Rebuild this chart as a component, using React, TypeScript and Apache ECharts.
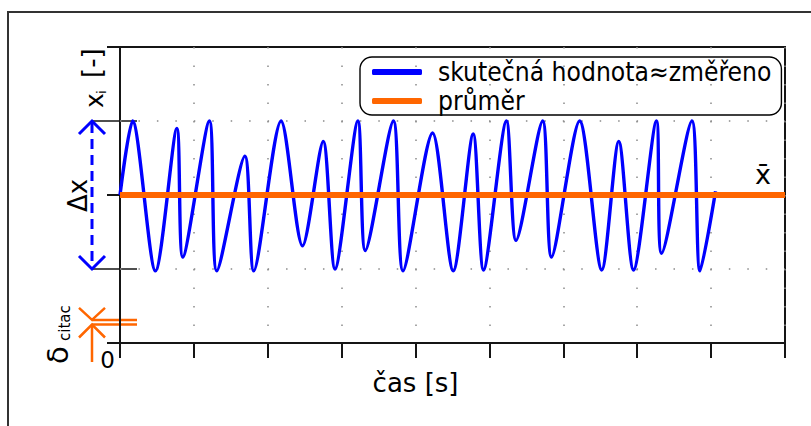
import React, { useEffect, useRef } from 'react';
import * as echarts from 'echarts';

// time axis in major-tick units, value axis 0..16
const timeValues = [0, 0.17, 0.48, 0.77, 0.85, 1.21, 1.31, 1.69, 1.81, 2.18, 2.47, 2.75, 2.91, 3.22, 3.32, 3.7, 3.83, 4.23, 4.51, 4.78, 4.92, 5.23, 5.36, 5.72, 5.84, 6.22, 6.52, 6.75, 6.95, 7.26, 7.33, 7.74, 7.85, 8.06];
const measuredValues = [8.0, 12.0, 3.9, 11.6, 4.65, 12.0, 3.9, 10.1, 3.9, 12.0, 5.25, 10.9, 4.0, 12.0, 5.0, 12.0, 3.9, 11.35, 3.9, 11.3, 3.95, 12.0, 5.55, 12.0, 4.65, 12.0, 3.95, 10.9, 3.95, 12.0, 4.85, 12.0, 3.9, 8.2];
const meanValue = 8;
const xRange = [0, 9];
const yRange = [0, 16];
const rangeLevels = [4, 12];
const readingLevels = [1.0, 1.25];
const seriesNames = ['skutečná hodnota≈změřeno', 'průměr'];
const xAxisTitle = 'čas [s]';
const zeroLabel = '0';

const FONT = "'DejaVu Sans', sans-serif";
const FONT_C = "'DejaVu Sans Condensed', 'DejaVu Sans', sans-serif";
const BLUE = '#0000ff';
const ORANGE = '#ff6600';
const AXIS = '#151515';

export default function App() {
  const ref = useRef<HTMLDivElement>(null);
  useEffect(() => {
    if (!ref.current) return;
    const chart = echarts.init(ref.current, undefined, { renderer: 'svg' });
    const blueData = timeValues.map((t, i) => [t, measuredValues[i]]);
    const meanData = [[xRange[0], meanValue], [xRange[1], meanValue]];
    chart.setOption({
      animation: false,
      backgroundColor: '#fff',
      grid: { left: 120, right: 26, top: 47, bottom: 83, show: true, borderColor: AXIS, borderWidth: 2 },
      xAxis: {
        type: 'value', min: xRange[0], max: xRange[1], interval: 1,
        axisLine: { lineStyle: { color: AXIS, width: 2 } },
        axisTick: { show: true, length: 15, lineStyle: { color: AXIS, width: 2 } },
        axisLabel: { show: false },
        splitLine: { show: true, lineStyle: { color: '#8a8a8a', width: 1.5, type: [1.5, 17] } },
      },
      yAxis: {
        type: 'value', min: yRange[0], max: yRange[1], interval: 8,
        axisLine: { show: true, lineStyle: { color: AXIS, width: 2 } },
        axisTick: { show: true, length: 13, lineStyle: { color: AXIS, width: 2 } },
        axisLabel: { show: false },
        splitLine: { show: false },
      },
      legend: {
        left: 360, top: 57, orient: 'vertical', icon: 'roundRect', itemWidth: 50, itemHeight: 6, itemGap: 3,
        padding: [2, 10, 1, 12], borderColor: '#000', borderWidth: 1.4, borderRadius: 12,
        textStyle: { fontSize: 26.2, lineHeight: 24, fontFamily: FONT_C, color: '#000', padding: [0, 0, 0, 11] },
        data: seriesNames,
      },
      series: [
        {
          name: seriesNames[0], type: 'line', data: blueData, smooth: 0.28, symbol: 'none',
          lineStyle: { color: BLUE, width: 3.4 }, itemStyle: { color: BLUE }, z: 3,
          markLine: {
            silent: true, symbol: ['none', 'none'], label: { show: false },
            lineStyle: { color: '#8a8a8a', width: 1.5, type: [1.5, 16.95] },
            data: rangeLevels.map((v) => ({ yAxis: v })),
            z: 1,
          },
        },
        {
          name: seriesNames[1], type: 'line', data: meanData, symbol: 'none',
          lineStyle: { color: ORANGE, width: 6 }, itemStyle: { color: ORANGE }, z: 4,
        },
      ],
    });

    const px = (x: number, y: number) => chart.convertToPixel({ gridIndex: 0 }, [x, y]) as number[];
    const o = px(xRange[0], yRange[0]);
    const ax = o[0];
    const y12 = px(0, rangeLevels[1])[1];
    const y4 = px(0, rangeLevels[0])[1];
    const yMean = px(0, meanValue)[1];
    const yR1 = px(0, readingLevels[1])[1];
    const yR0 = px(0, readingLevels[0])[1];
    const arrowX = ax - 28;
    const inner = ax + 17;
    const blk = { stroke: AXIS, lineWidth: 1.6 };
    const orangeS = { stroke: ORANGE, lineWidth: 2.5 };
    const rt = Math.PI / 2;
    const text = (t: string, x: number, y: number, size: number, extra: any = {}) => ({
      type: 'text', x, y, rotation: extra.rotation || 0, z: 10,
      style: { text: t, fontSize: size, fontFamily: extra.font || FONT, fill: '#000', align: extra.align || 'left', verticalAlign: 'middle' },
    });
    const rightEnd = px(xRange[1], meanValue)[0];
    const xLabelX = px(4, 0)[0];

    chart.setOption({
      graphic: [
        { type: 'rect', shape: { x: 8, y: 12, width: 1000, height: 600 }, style: { fill: 'none', stroke: '#333', lineWidth: 2 }, silent: true },
        { type: 'line', shape: { x1: arrowX, y1: y12, x2: inner, y2: y12 }, style: blk },
        { type: 'line', shape: { x1: arrowX, y1: y4, x2: inner, y2: y4 }, style: blk },
        { type: 'line', shape: { x1: ax - 13, y1: o[1], x2: inner, y2: o[1] }, style: blk },
        { type: 'line', shape: { x1: arrowX, y1: y12 + 2, x2: arrowX, y2: y4 - 2 }, style: { stroke: BLUE, lineWidth: 3, lineDash: [10, 6] } },
        { type: 'polyline', shape: { points: [[arrowX - 13, y12 + 13], [arrowX, y12], [arrowX + 13, y12 + 13]] }, style: { stroke: BLUE, lineWidth: 3, fill: 'none' } },
        { type: 'polyline', shape: { points: [[arrowX - 13, y4 - 13], [arrowX, y4], [arrowX + 13, y4 - 13]] }, style: { stroke: BLUE, lineWidth: 3, fill: 'none' } },
        // reading uncertainty marker
        { type: 'line', shape: { x1: arrowX, y1: yR1, x2: inner, y2: yR1 }, style: orangeS },
        { type: 'line', shape: { x1: arrowX, y1: yR0, x2: inner, y2: yR0 }, style: orangeS },
        { type: 'polyline', shape: { points: [[arrowX - 13, yR1 - 12], [arrowX, yR1], [arrowX + 13, yR1 - 12]] }, style: { ...orangeS, fill: 'none' } },
        { type: 'polyline', shape: { points: [[arrowX - 13, yR0 + 13], [arrowX, yR0], [arrowX + 13, yR0 + 13]] }, style: { ...orangeS, fill: 'none' } },
        { type: 'line', shape: { x1: arrowX, y1: yR0, x2: arrowX, y2: o[1] + 19 }, style: orangeS },
        // texts
        text('Δx', 78, (y12 + y4) / 2 + 17, 26, { rotation: rt }),
        text('x', 94, 108, 25, { rotation: rt }),
        text('i', 101, 94, 13, { rotation: rt }),
        text('[-]', 92, 78, 26, { rotation: rt }),
        text('δ', 58, 364, 29, { rotation: rt }),
        text('citac', 65, 341, 15, { rotation: rt }),
        text(zeroLabel, 107.5, o[1] + 17, 23, { align: 'center' }),
        text(xAxisTitle, xLabelX, o[1] + 40, 26, { align: 'center' }),
        text('x\u0304', rightEnd - 22, yMean - 21, 27, { align: 'center' }),
      ],
    });
    return () => chart.dispose();
  }, []);
  return <div ref={ref} style={{ position: 'fixed', left: 0, top: 0, width: 811, height: 426 }} />;
}
